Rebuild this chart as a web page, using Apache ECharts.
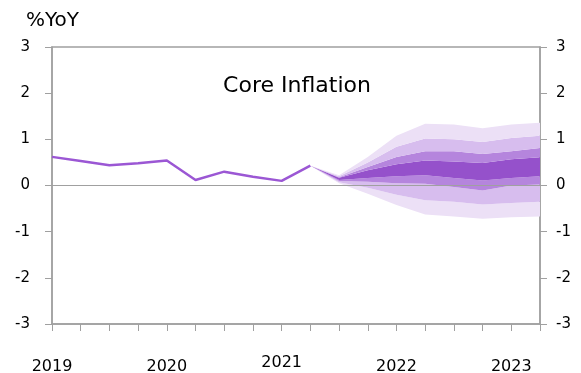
<!DOCTYPE html>
<html>
<head>
<meta charset="utf-8">
<script src="https://cdn.jsdelivr.net/npm/echarts@6/dist/echarts.min.js"></script>
<style>
  html, body { margin: 0; padding: 0; background: #fff; }
  #chart { width: 581px; height: 373px; }
</style>
</head>
<body>
<div id="chart"></div>
<script>
// Quarterly periods, 2019Q1 .. 2023Q2
const quarters = [
  '2019Q1','2019Q2','2019Q3','2019Q4',
  '2020Q1','2020Q2','2020Q3','2020Q4',
  '2021Q1','2021Q2','2021Q3','2021Q4',
  '2022Q1','2022Q2','2022Q3','2022Q4',
  '2023Q1','2023Q2'
];
const yTicks = [-3, -2, -1, 0, 1, 2, 3];

// Actual core inflation, %YoY
const actual = [0.62, 0.53, 0.44, 0.48, 0.54, 0.12, 0.30, 0.19, 0.10, 0.43,
                null, null, null, null, null, null, null, null];

// Forecast fan boundaries (from 2021Q2 onward)
const pad = [null, null, null, null, null, null, null, null, null];
const outerTop = pad.concat([0.43, 0.22, 0.62, 1.08, 1.34, 1.32, 1.24, 1.32, 1.36]);
const lightTop = pad.concat([0.43, 0.20, 0.50, 0.84, 1.02, 1.00, 0.94, 1.03, 1.08]);
const medTop   = pad.concat([0.43, 0.18, 0.40, 0.62, 0.74, 0.74, 0.68, 0.74, 0.81]);
const darkTop  = pad.concat([0.43, 0.17, 0.33, 0.46, 0.54, 0.52, 0.49, 0.57, 0.61]);
const darkBot  = pad.concat([0.43, 0.12, 0.16, 0.20, 0.22, 0.16, 0.11, 0.16, 0.20]);
const medBot   = pad.concat([0.43, 0.10, 0.08, 0.05, 0.04, -0.03, -0.11, 0.00, 0.02]);
const lightBot = pad.concat([0.43, 0.07, -0.05, -0.20, -0.32, -0.35, -0.41, -0.38, -0.35]);
const outerBot = pad.concat([0.43, 0.05, -0.18, -0.42, -0.63, -0.67, -0.72, -0.69, -0.67]);

const bandColors = {
  lightest: '#ece0f6',
  light: '#d7bdee',
  medium: '#b585dd',
  dark: '#9551cb'
};
const lineColor = '#9b57d4';
const axisColor = '#a0a0a0';
const textColor = '#000';
const font = '"DejaVu Sans", Verdana, sans-serif';

// Difference between two boundary arrays, used as stacked band thickness
function diff(upper, lower) {
  return upper.map((v, i) => (v == null || lower[i] == null) ? null : +(v - lower[i]).toFixed(3));
}

function band(name, data, color) {
  return {
    name: name, type: 'line', stack: 'fan', stackStrategy: 'all',
    data: data, symbol: 'none', silent: true,
    lineStyle: { width: 0, opacity: 0 },
    areaStyle: { color: color, opacity: 1 },
    z: 2
  };
}

const series = [
  {
    name: 'base', type: 'line', stack: 'fan', stackStrategy: 'all',
    data: outerBot, symbol: 'none', silent: true,
    lineStyle: { width: 0, opacity: 0 },
    z: 2
  },
  band('b1', diff(lightBot, outerBot), bandColors.lightest),
  band('b2', diff(medBot, lightBot), bandColors.light),
  band('b3', diff(darkBot, medBot), bandColors.medium),
  band('b4', diff(darkTop, darkBot), bandColors.dark),
  band('b5', diff(medTop, darkTop), bandColors.medium),
  band('b6', diff(lightTop, medTop), bandColors.light),
  band('b7', diff(outerTop, lightTop), bandColors.lightest),
  {
    name: 'Core Inflation', type: 'line', data: actual,
    symbol: 'none', smooth: false,
    lineStyle: { color: lineColor, width: 2.5 },
    z: 4,
    markLine: {
      silent: true, symbol: 'none', label: { show: false },
      lineStyle: { color: axisColor, width: 1, type: 'solid' },
      data: [{ yAxis: 0 }]
    }
  }
];

const yAxisCommon = {
  type: 'value', min: yTicks[0], max: yTicks[yTicks.length - 1], interval: 1,
  splitLine: { show: false },
  axisLine: { show: true, lineStyle: { color: axisColor, width: 1.5 } },
  axisTick: { show: true, inside: false, length: 7, lineStyle: { color: axisColor } },
  axisLabel: { color: textColor, fontSize: 15, fontFamily: font }
};

const chart = echarts.init(document.getElementById('chart'), null, { renderer: 'canvas' });
chart.setOption({
  animation: false,
  backgroundColor: '#fff',
  title: [
    { text: '%YoY', left: 21, top: 6,
      textStyle: { fontSize: 20, fontWeight: 'normal', color: textColor, fontFamily: font } },
    { text: 'Core Inflation', left: 292, top: 70, textAlign: 'center',
      textStyle: { fontSize: 22, fontWeight: 'normal', color: textColor, fontFamily: font } }
  ],
  grid: { left: 52, right: 41, top: 47, bottom: 49, show: true,
          outerBoundsMode: 'none', containLabel: false,
          borderColor: axisColor, borderWidth: 1.5, backgroundColor: 'transparent' },
  xAxis: {
    type: 'category', data: quarters, boundaryGap: false,
    axisLine: { show: true, onZero: false, lineStyle: { color: axisColor, width: 1.5 } },
    axisTick: { show: true, interval: 0, length: 7, lineStyle: { color: axisColor } },
    axisLabel: {
      interval: 0, margin: 34, color: textColor, fontSize: 16, fontFamily: font,
      lineHeight: 18,
      formatter: v => {
        if (!v.endsWith('Q1')) return '';
        const yr = v.slice(0, 4);
        return yr === '2021' ? '{hi|' + yr + '}' : yr;
      },
      rich: { hi: { fontSize: 16, fontFamily: font, color: textColor, lineHeight: 10 } }
    }
  },
  yAxis: [
    Object.assign({}, yAxisCommon, { position: 'left',
      axisLabel: Object.assign({}, yAxisCommon.axisLabel, { margin: 22 }) }),
    Object.assign({}, yAxisCommon, { position: 'right',
      axisLabel: Object.assign({}, yAxisCommon.axisLabel, { margin: 16 }) })
  ],
  series: series
});
</script>
</body>
</html>
